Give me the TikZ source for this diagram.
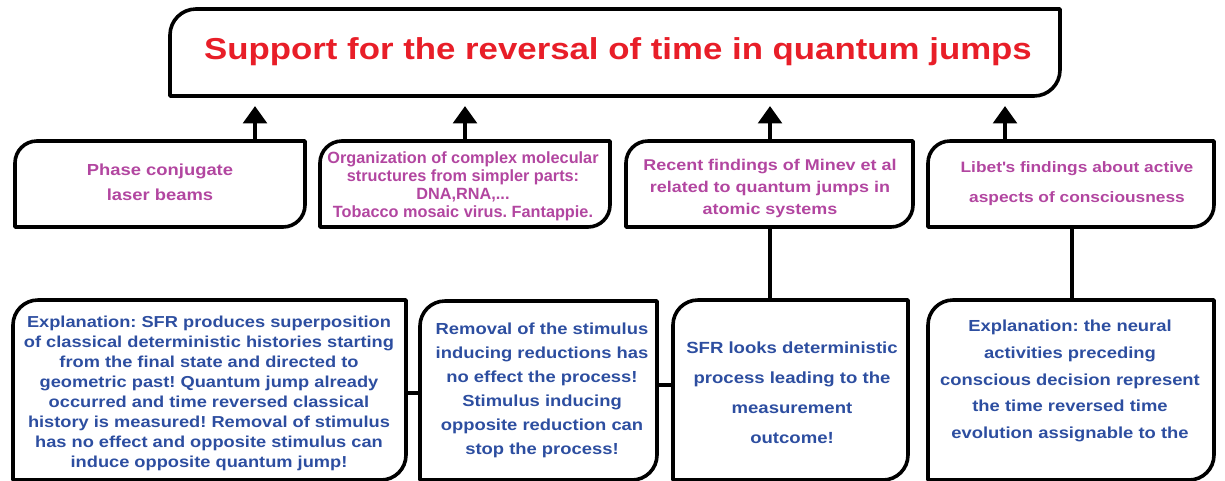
\documentclass[tikz,border=0pt]{standalone}
\usepackage{fontspec}
\setmainfont{Liberation Sans}[FakeStretch=1.15]
\newfontfamily\plainfont{Liberation Sans}
\usetikzlibrary{calc,arrows.meta}
\definecolor{ttlred}{RGB}{232,30,40}
\definecolor{mag}{RGB}{178,70,160}
\definecolor{blu}{RGB}{45,78,160}
\frenchspacing
\newcommand\rbox[2]{%
  \draw[boxline] (#1.south west) -- ($(#1.north west)+(0,#2)$)
    .. controls ($(#1.north west)+(0,0.448*#2)$) and ($(#1.north west)+(0.448*#2,0)$) .. ($(#1.north west)+(#2,0)$)
    -- (#1.north east) -- ($(#1.south east)+(0,-#2)$)
    .. controls ($(#1.south east)+(0,-0.448*#2)$) and ($(#1.south east)+(-0.448*#2,0)$) .. ($(#1.south east)+(-#2,0)$)
    -- cycle;}
\begin{document}
\begin{tikzpicture}[x=0.75pt,y=-0.75pt,
  boxline/.style={line width=2.7pt,line join=round},
  boxn/.style 2 args={minimum width=#1*0.75pt,minimum height=#2*0.75pt,inner sep=0pt,outer sep=0pt},
  conn/.style={line width=2.7pt},
  uparrow/.style={line width=3.6pt,-{Triangle[length=13pt,width=17.5pt]},shorten >=7.5pt},
  magtxt/.style={text=mag,align=center,font=\bfseries\fontsize{12}{18.75}\selectfont,inner sep=0pt},
  blutxt/.style={text=blu,align=center,font=\bfseries\fontsize{12}{15}\selectfont,inner sep=0pt}]
\useasboundingbox (0,0) rectangle (1225,480);
% boxes
\node[boxn={890}{87}] (T) at (615,52.5) {};
\node[boxn={290}{86}] (B1) at (160,184) {};
\node[boxn={290}{86}] (B2) at (465,184) {};
\node[boxn={287}{86}] (B3) at (769.5,184) {};
\node[boxn={286}{86}] (B4) at (1071,184) {};
\node[boxn={393}{180}] (B5) at (209.5,390) {};
\node[boxn={237}{179}] (B6) at (538.5,390.5) {};
\node[boxn={235}{180}] (B7) at (790.5,390) {};
\node[boxn={286}{180}] (B8) at (1071,390) {};
\foreach \n in {B1,B2,B3,B4}{\rbox{\n}{22}}
\rbox{T}{26}
\foreach \n in {B5,B6,B7,B8}{\rbox{\n}{25}}
% texts
\node[text=ttlred,font=\bfseries\fontsize{22.7}{26}\selectfont,inner sep=0pt] (Tt) at (618,52) {Support for the reversal of time in quantum jumps};
\node[magtxt] (B1t) at (160,182) {Phase conjugate\\laser beams};
\node[magtxt,font=\plainfont\bfseries\fontsize{12.2}{13.5}\selectfont] (B2t) at (463,186) {Organization of complex molecular\\structures from simpler parts:\\DNA,RNA,...\\Tobacco mosaic virus. Fantappie.};
\node[magtxt,font=\bfseries\fontsize{11.7}{16.5}\selectfont] (B3t) at (770,188) {Recent findings of Minev et al\\related to quantum jumps in\\atomic systems};
\node[magtxt,font=\bfseries\fontsize{11.3}{22.5}\selectfont] (B4t) at (1077,184) {Libet\textquotesingle s findings about active\\aspects of consciousness};
\node[blutxt,font=\bfseries\fontsize{11.9}{15}\selectfont] (B5t) at (209,393) {Explanation: SFR produces superposition\\of classical deterministic histories starting\\from the final state and directed to\\geometric past! Quantum jump already\\occurred and time reversed classical\\history is measured! Removal of stimulus\\has no effect and opposite stimulus can\\induce opposite quantum jump!};
\node[blutxt,font=\bfseries\fontsize{12}{18}\selectfont] (B6t) at (542,390) {Removal of the stimulus\\inducing reductions has\\no effect the process!\\Stimulus inducing\\opposite reduction can\\stop the process!};
\node[blutxt,font=\bfseries\fontsize{12.1}{22.5}\selectfont] (B7t) at (792,393) {SFR looks deterministic\\process leading to the\\measurement\\outcome!};
\node[blutxt,font=\bfseries\fontsize{12}{20}\selectfont] (B8t) at (1070,381) {Explanation: the neural\\activities preceding\\conscious decision represent\\the time reversed time\\evolution assignable to the};
% connectors
\coordinate (a1) at (255,0);
\coordinate (a2) at (465,0);
\coordinate (a3) at (770,0);
\coordinate (a4) at (1005,0);
\coordinate (v4) at (1072,0);
\coordinate (h1) at (0,393);
\coordinate (h2) at (0,385);
\draw[uparrow] (a1 |- B1.north) -- (a1 |- T.south);
\draw[uparrow] (a2 |- B2.north) -- (a2 |- T.south);
\draw[uparrow] (a3 |- B3.north) -- (a3 |- T.south);
\draw[uparrow] (a4 |- B4.north) -- (a4 |- T.south);
\draw[conn] (a3 |- B3.south) -- (a3 |- B7.north);
\draw[conn] (v4 |- B4.south) -- (v4 |- B8.north);
\draw[conn] (B5.east |- h1) -- (B6.west |- h1);
\draw[conn] (B6.east |- h2) -- (B7.west |- h2);
\end{tikzpicture}
\end{document}
